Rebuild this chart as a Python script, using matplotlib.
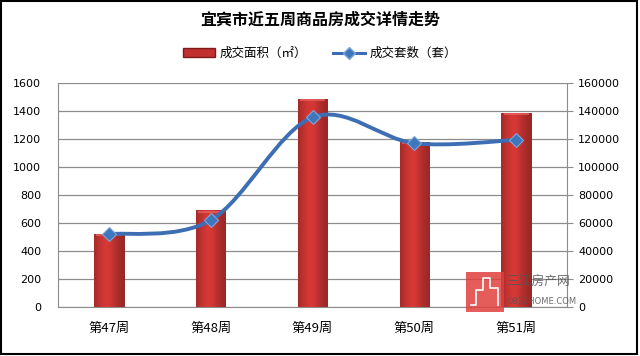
import numpy as np
import matplotlib
matplotlib.use("Agg")
import matplotlib.pyplot as plt
from matplotlib.path import Path
from matplotlib.patches import PathPatch, Rectangle
from matplotlib.lines import Line2D

plt.rcParams['font.family'] = ['DejaVu Sans', 'Noto Sans CJK SC']

weeks = ['第47周', '第48周', '第49周', '第50周', '第51周']
area = [525, 690, 1485, 1178, 1385]          # 成交面积（㎡）
units = [52000, 62000, 135500, 117000, 119300]  # 成交套数（套）
left_ticks = [0, 200, 400, 600, 800, 1000, 1200, 1400, 1600]
right_ticks = [0, 20000, 40000, 60000, 80000, 100000, 120000, 140000, 160000]

fig = plt.figure(figsize=(6.4, 3.56), dpi=100)
ax = fig.add_axes([0.0906, 0.1376, 0.7954, 0.6292])
ax2 = ax.twinx()

x = np.arange(len(weeks))
bw = 0.29

# bars with a soft cylinder shading
g = np.linspace(0, 1, 64)
shade = 0.70 + 0.30 * np.exp(-((g - 0.42) / 0.36) ** 2)
base = np.array([0.84, 0.22, 0.21])
img = np.clip(base[None, :] * shade[:, None], 0, 1)[None, :, :]
bars = ax.bar(x, area, width=bw, color='#C0302E', edgecolor='#7E1A18', linewidth=0.6, zorder=2)
for b in bars:
    bx, by, w, h = b.get_x(), b.get_y(), b.get_width(), b.get_height()
    im = ax.imshow(img, extent=[bx, bx + w, by, by + h], aspect='auto', zorder=2.1, interpolation='bilinear')
    im.set_clip_path(b)
    cap = Rectangle((bx + w * 0.08, by + h - 16), w * 0.84, 14, facecolor='#EA6563', edgecolor='none',
                    alpha=0.7, zorder=2.2)
    ax.add_patch(cap)

ax.set_xlim(-0.5, len(weeks) - 0.5)
ax.set_ylim(0, 1600)
ax.set_yticks(left_ticks)
ax.yaxis.grid(True, color='#8C8C8C', linewidth=0.9)
ax.set_axisbelow(True)
ax.set_xticks(x)
ax.set_xticklabels(weeks, family=['Noto Sans CJK SC'], fontsize=9.5)
ax.tick_params(axis='x', length=0, pad=11)
ax.tick_params(axis='y', length=0, labelsize=8, pad=12)
for s in ['top', 'right']:
    ax.spines[s].set_visible(False)
ax.spines['left'].set_color('#8C8C8C')
ax.spines['bottom'].set_color('#8C8C8C')

# smoothed line (Excel style Catmull-Rom bezier)
pts = np.column_stack([x, units]).astype(float)
verts = [pts[0]]
codes = [Path.MOVETO]
n = len(pts)
for i in range(n - 1):
    p0 = pts[max(i - 1, 0)]
    p1 = pts[i]
    p2 = pts[i + 1]
    p3 = pts[min(i + 2, n - 1)]
    verts += [p1 + (p2 - p0) / 6, p2 - (p3 - p1) / 6, p2]
    codes += [Path.CURVE4] * 3
ax2.add_patch(PathPatch(Path(verts, codes), facecolor='none', edgecolor='#3D6EB4',
                        linewidth=2.8, zorder=3, capstyle='round'))
ax2.plot(x, units, linestyle='none', marker='D', markersize=7, markerfacecolor='#3F77BF',
         markeredgecolor='#7FA6D8', markeredgewidth=0.8, zorder=4)
ax2.set_ylim(0, 160000)
ax2.set_yticks(right_ticks)
ax2.tick_params(axis='y', length=4, color='#8C8C8C', labelsize=8, pad=4)
for s in ['top', 'left', 'bottom']:
    ax2.spines[s].set_visible(False)
ax2.spines['right'].set_color('#8C8C8C')

fig.text(0.5, 0.944, '宜宾市近五周商品房成交详情走势', ha='center', va='center',
         fontsize=11.5, fontweight='bold', family=['Noto Sans CJK SC'])

handles = [Rectangle((0, 0), 1, 1, facecolor='#C0302E', edgecolor='#7E1A18'),
           Line2D([], [], color='#3D6EB4', linewidth=2.2, marker='D', markersize=6,
                  markerfacecolor='#3F77BF', markeredgecolor='#7FA6D8')]
fig.legend(handles, ['成交面积（㎡）', '成交套数（套）'], loc='center', bbox_to_anchor=(0.5, 0.85),
           ncol=2, frameon=False, prop={'family': ['Noto Sans CJK SC', 'DejaVu Sans'], 'size': 9},
           handlelength=2.6, handleheight=0.7, columnspacing=2.0, handletextpad=0.4)

# watermark
fig.patches.append(Rectangle((466 / 640, 1 - 312 / 356), 38 / 640, 40 / 356, transform=fig.transFigure,
                             facecolor='#E0403E', edgecolor='none', alpha=0.85, zorder=5))
bx = np.array([471, 476, 476, 483, 483, 490, 490, 498, 498]) / 640
by = 1 - np.array([305, 305, 290, 290, 278, 278, 288, 288, 305]) / 356
fig.lines.append(Line2D(bx, by, transform=fig.transFigure, color='white', linewidth=1.2, zorder=6))
fig.text(506 / 640, 1 - 281 / 356, '三江房产网', fontsize=9.2, color='#555555', alpha=0.85,
         family=['Noto Sans CJK SC'], va='center', ha='left', zorder=6)
fig.text(507 / 640, 1 - 302 / 356, '0831HOME.COM', fontsize=6, color='#555555', alpha=0.85,
         va='center', ha='left', zorder=6)

# outer frame
fig.patches.append(Rectangle((0.002, 0.006), 0.993, 0.99, transform=fig.transFigure,
                             facecolor='none', edgecolor='black', linewidth=1.5))

fig.savefig('out.png', dpi=100)
